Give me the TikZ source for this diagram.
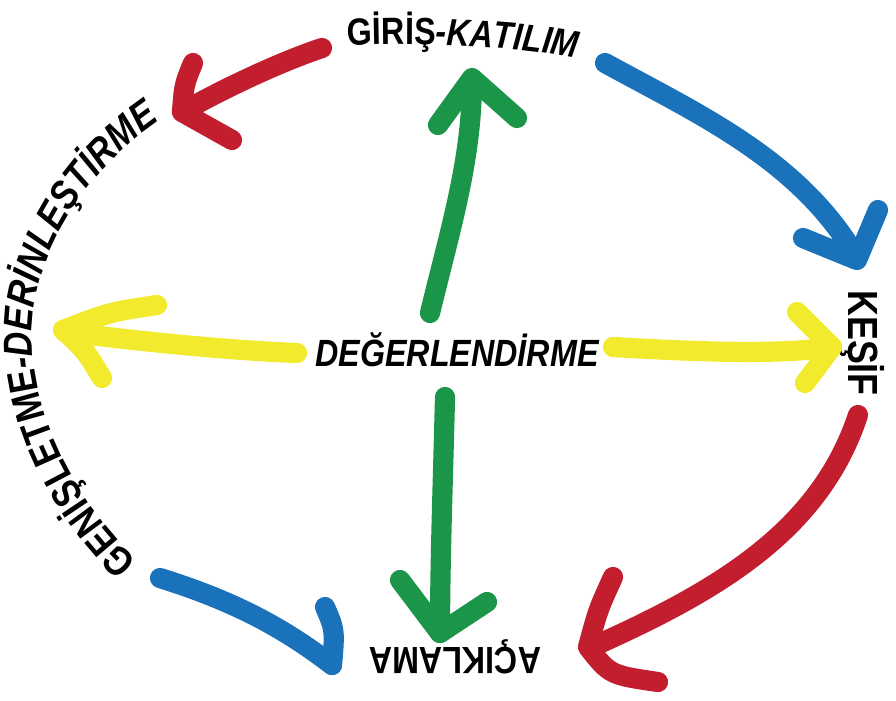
\documentclass[tikz,border=0pt]{standalone}
\usepackage{fontspec}
\newfontfamily\lblfont{Liberation Sans}[FakeStretch=0.85]
\usetikzlibrary{decorations.text}
\definecolor{brushred}{HTML}{C21E2E}
\definecolor{brushblue}{HTML}{1A72BA}
\definecolor{brushgreen}{HTML}{1B9547}
\definecolor{brushyellow}{HTML}{F2EA2C}
\newcommand\capfont{\lblfont\bfseries\fontsize{21.6}{24}\selectfont}
\newcommand\sidefont{\lblfont\bfseries\fontsize{23}{26}\selectfont}

\begin{document}
\begin{tikzpicture}[x=0.02cm,y=-0.02cm,line join=round,
    brush/.style={line width=11.5pt,line cap=round,line join=round},
    phase/.style={font=\capfont,inner sep=0pt}]
  \useasboundingbox (0,0) rectangle (896,700);

  % ---- phase names -------------------------------------------------------
  \node[phase,font=\capfont\itshape] (eval) at (457,350) {DEĞERLENDİRME};
  \node[phase,font=\lblfont\bfseries\fontsize{24}{26}\selectfont,rotate=-90]
       (explore) at (862,343) {KEŞİF};
  \node[phase,rotate=180] (explain) at (455,657) {AÇIKLAMA};
  % top label follows a gentle curve
  \path[decorate,decoration={text along path,text align=center,
        text={|\capfont|GİRİŞ|\capfont\itshape|-KATILIM}}]
    (340,46) .. controls (430,42) and (520,46) .. (584,60);
  % left label runs up the outer curve
  \path[decorate,decoration={text along path,text align=center,
        text={|\sidefont|GENİŞLETME|\sidefont\itshape|-DERİNLEŞTİRME}}]
    (152,574) .. controls (80,512) and (32,420) .. (32,335)
    .. controls (32,250) and (92,160) .. (176,110);

  % ---- outer cycle -------------------------------------------------------
  % giris -> genisletme (red)
  \draw[brush,brushred] (322,48) .. controls (280,62) and (225,88) .. (184,111);
  \draw[brush,brushred] (193,63) .. controls (184,85) .. (182,112) -- (232,140);
  % giris -> kesif (blue)
  \draw[brush,brushblue] (605,63) .. controls (700,115) and (800,160) .. (857,258);
  \draw[brush,brushblue] (803,238) -- (857,260) -- (878,210);
  % kesif -> aciklama (red)
  \draw[brush,brushred] (858,415) .. controls (820,530) and (720,590) .. (592,647);
  \draw[brush,brushred] (613,577) .. controls (598,610) .. (588,647)
        .. controls (610,675) .. (658,682);
  % genisletme -> aciklama (blue)
  \draw[brush,brushblue] (160,578) .. controls (230,600) and (280,625) .. (332,665);
  \draw[brush,brushblue] (325,607) .. controls (335,630) .. (332,665);

  % ---- from the centre ---------------------------------------------------
  \draw[brush,brushgreen] (430,313) .. controls (450,230) and (472,160) .. (472,80);
  \draw[brush,brushgreen] (438,125) -- (472,78) -- (517,118);
  \draw[brush,brushgreen] (445,397) .. controls (443,480) and (440,560) .. (440,633);
  \draw[brush,brushgreen] (400,580) -- (440,633) -- (487,602);
  \draw[brush,brushyellow] (297,353) .. controls (220,350) and (130,340) .. (65,332);
  \draw[brush,brushyellow] (157,305) .. controls (110,312) .. (63,330)
        .. controls (85,350) .. (102,378);
  \draw[brush,brushyellow] (613,347) .. controls (700,352) and (780,355) .. (832,347);
  \draw[brush,brushyellow] (797,312) -- (832,347) -- (805,383);
\end{tikzpicture}
\end{document}
